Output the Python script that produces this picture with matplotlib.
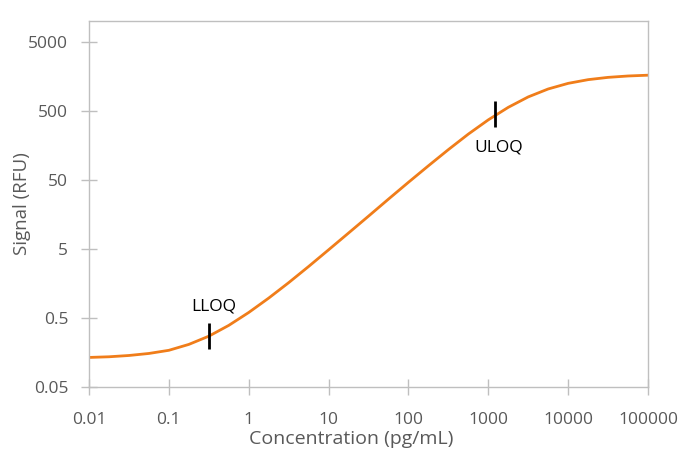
import matplotlib
matplotlib.use("Agg")
import matplotlib.pyplot as plt

# Curve values (concentration pg/mL, signal RFU)
conc = [0.01, 0.0178, 0.0316, 0.0562, 0.1, 0.178, 0.316, 0.562, 1, 1.78, 3.16, 5.62,
        10, 17.8, 31.6, 56.2, 100, 178, 316, 562, 1000, 1780, 3160, 5620,
        10000, 17800, 31600, 56200, 100000]
signal = [0.134, 0.137, 0.143, 0.153, 0.170, 0.207, 0.272, 0.39, 0.60, 0.97, 1.62, 2.78,
          4.85, 8.5, 14.9, 26.3, 46.1, 80, 137, 230, 370, 562, 795, 1036,
          1250, 1414, 1526, 1598, 1641]

# Limit-of-quantitation markers
loq_labels = ["LLOQ", "ULOQ"]
loq_conc = [0.32, 1200]
loq_signal = [0.275, 450]

x_ticks = [0.01, 0.1, 1, 10, 100, 1000, 10000, 100000]
x_tick_labels = ["0.01", "0.1", "1", "10", "100", "1000", "10000", "100000"]
y_ticks = [0.05, 0.5, 5, 50, 500, 5000]
y_tick_labels = ["0.05", "0.5", "5", "50", "500", "5000"]

plt.rcParams['font.family'] = ['Open Sans', 'DejaVu Sans']

fig = plt.figure(figsize=(6.94, 4.75), dpi=100)
ax = fig.add_axes([89/694, 1-387/475, (648-89)/694, (387-21)/475])

ax.plot(conc, signal, color="#F07D1A", lw=2.0, solid_capstyle="round")
ax.plot(loq_conc, loq_signal, linestyle="none", marker="|", markersize=19,
        markeredgewidth=2.0, color="black")

ax.set_xscale("log")
ax.set_yscale("log")
ax.set_xlim(0.01, 100000)
ax.set_ylim(0.05, 10000)

ax.set_xticks(x_ticks)
ax.set_xticklabels(x_tick_labels)
ax.set_yticks(y_ticks)
ax.set_yticklabels(y_tick_labels)
ax.minorticks_off()

grey = "#BFBFBF"
for s in ax.spines.values():
    s.set_color(grey)
    s.set_linewidth(1.0)
ax.tick_params(axis="both", which="major", direction="inout", length=12,
               width=1.0, color=grey, labelcolor="#595959", labelsize=12.5)
ax.tick_params(axis="x", pad=12)
ax.tick_params(axis="y", pad=9)

ax.set_xlabel("Concentration (pg/mL)", color="#595959", fontsize=14)
ax.set_ylabel("Signal (RFU)", color="#595959", fontsize=13.5)
ax.xaxis.label.set_va("center")
ax.yaxis.label.set_va("center")
ax.xaxis.set_label_coords(0.469, -0.143)
ax.yaxis.set_label_coords(-0.12, 0.5)

offsets = [(3, 21), (3, -24)]
for lab, xv, yv, off in zip(loq_labels, loq_conc, loq_signal, offsets):
    ax.annotate(lab, (xv, yv), xytext=off, textcoords="offset points",
                ha="center", va="center", fontsize=12.5, color="black")

fig.savefig("out.png", dpi=100)
